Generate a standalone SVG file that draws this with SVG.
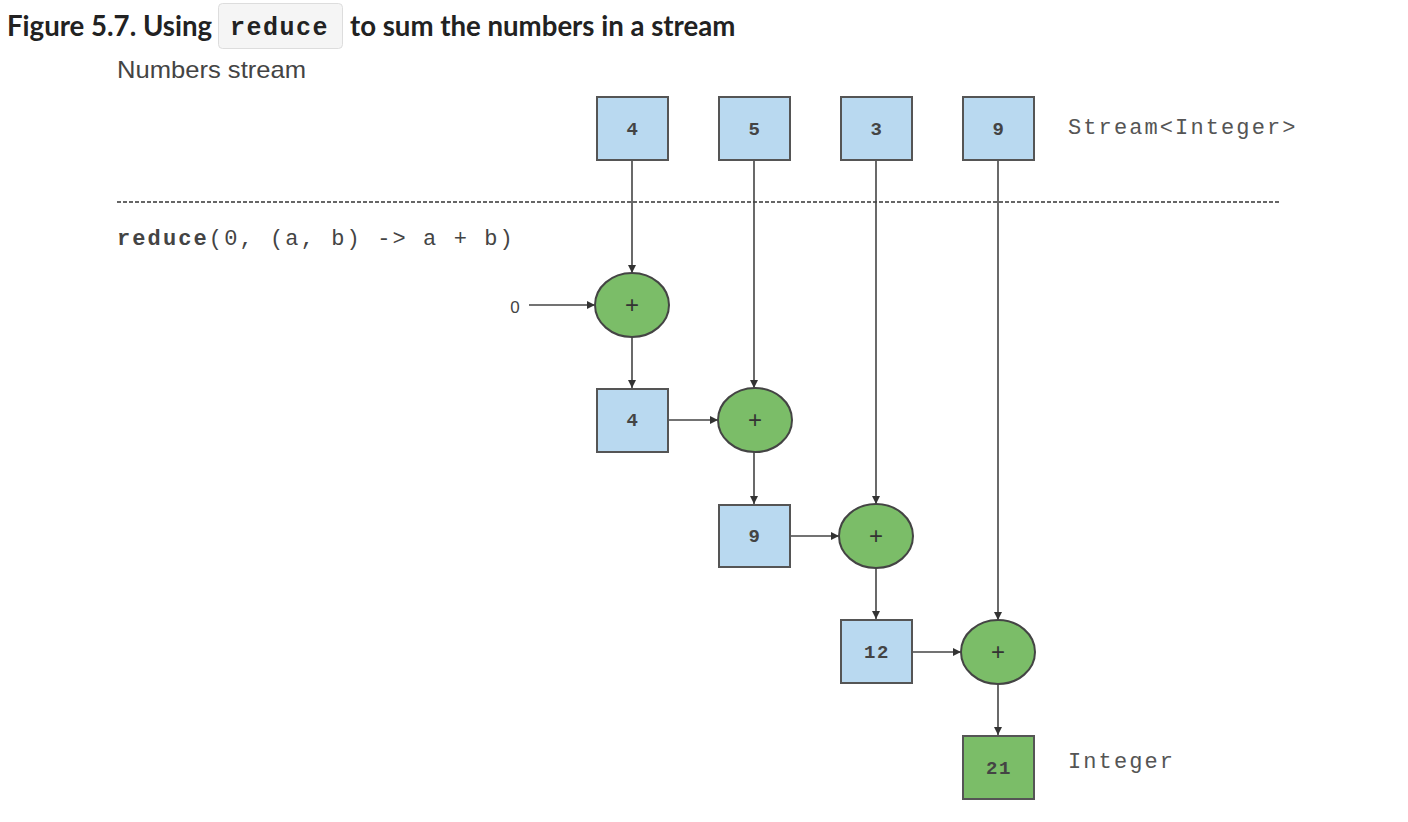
<svg xmlns="http://www.w3.org/2000/svg" width="1408" height="822" viewBox="0 0 1408 822">
<style>
.title{font-family:Lato,"Open Sans",sans-serif;font-weight:bold;font-size:27.6px;fill:#222}
.code{font-family:"Liberation Mono","DejaVu Sans Mono",monospace}
.box{fill:#b9d9f0;stroke:#555;stroke-width:2}
.res{fill:#7bbd68;stroke:#555;stroke-width:2}
.op{fill:#7bbd68;stroke:#444;stroke-width:2}
.num{font-family:"Liberation Mono",monospace;font-size:19px;fill:#444;text-anchor:middle;font-weight:bold;letter-spacing:1.5px}
.lbl{font-family:"Liberation Mono",monospace;font-size:22px;fill:#555;letter-spacing:2.1px}
.plus{font-family:"Liberation Sans",sans-serif;font-size:24px;fill:#333;text-anchor:middle}
.conn line{stroke:#444;stroke-width:1.6}
</style>
<defs>
<marker id="ah" viewBox="0 0 10 10" refX="10" refY="5" markerWidth="9" markerHeight="8" markerUnits="userSpaceOnUse" orient="auto">
<path d="M0,0 L10,5 L0,10 z" fill="#333"/>
</marker>
</defs>
<rect width="1408" height="822" fill="#fff"/>
<g id="title">
<text class="title" x="7" y="36">Figure 5.7. Using</text>
<rect x="218.500" y="3.500" width="124" height="45" rx="4" fill="#f5f5f5" stroke="#ddd"/>
<text class="code" x="230" y="35" font-size="25" font-weight="bold" fill="#222" letter-spacing="1.5">reduce</text>
<text class="title" x="350" y="36">to sum the numbers in a stream</text>
</g>
<g id="labels">
<text x="117" y="78" font-family="'Liberation Sans',Arial,sans-serif" font-size="24" fill="#444" textLength="189" lengthAdjust="spacingAndGlyphs">Numbers stream</text>
<line x1="117" y1="202" x2="1280" y2="202" stroke="#666" stroke-width="2" stroke-dasharray="4,2"/>
<text class="code" x="117" y="245" font-size="22" fill="#444" letter-spacing="2.1"><tspan font-weight="bold">reduce</tspan>(0, (a, b) -&gt; a + b)</text>
<text class="lbl" x="1068" y="134">Stream&lt;Integer&gt;</text>
<text class="lbl" x="1068" y="768">Integer</text>
<text x="515" y="313" font-family="'Liberation Sans',sans-serif" font-size="17" fill="#444" text-anchor="middle">0</text>
</g>
<g id="connectors" class="conn">
<line x1="632" y1="161" x2="632" y2="273" marker-end="url(#ah)"/>
<line x1="754" y1="161" x2="754" y2="388" marker-end="url(#ah)"/>
<line x1="876" y1="161" x2="876" y2="504" marker-end="url(#ah)"/>
<line x1="998" y1="161" x2="998" y2="620" marker-end="url(#ah)"/>
<line x1="529" y1="305" x2="595" y2="305" marker-end="url(#ah)"/>
<line x1="632" y1="337" x2="632" y2="388" marker-end="url(#ah)"/>
<line x1="668" y1="420" x2="718" y2="420" marker-end="url(#ah)"/>
<line x1="754" y1="452" x2="754" y2="504" marker-end="url(#ah)"/>
<line x1="790" y1="536" x2="839" y2="536" marker-end="url(#ah)"/>
<line x1="876" y1="568" x2="876" y2="619" marker-end="url(#ah)"/>
<line x1="912" y1="652" x2="961" y2="652" marker-end="url(#ah)"/>
<line x1="998" y1="684" x2="998" y2="735" marker-end="url(#ah)"/>
</g>
<g id="s4"><rect class="box" x="597" y="97" width="71" height="63"/><text class="num" x="633" y="135">4</text></g>
<g id="s5"><rect class="box" x="719" y="97" width="71" height="63"/><text class="num" x="755" y="135">5</text></g>
<g id="s3"><rect class="box" x="841" y="97" width="71" height="63"/><text class="num" x="877" y="135">3</text></g>
<g id="s9"><rect class="box" x="963" y="97" width="71" height="63"/><text class="num" x="999" y="135">9</text></g>
<g id="op1"><ellipse class="op" cx="632" cy="305" rx="37" ry="32"/><text class="plus" x="632" y="313">+</text></g>
<g id="r4"><rect class="box" x="597" y="389" width="71" height="63"/><text class="num" x="633" y="426">4</text></g>
<g id="op2"><ellipse class="op" cx="755" cy="420" rx="37" ry="32"/><text class="plus" x="755" y="428">+</text></g>
<g id="r9"><rect class="box" x="719" y="505" width="71" height="62"/><text class="num" x="755" y="542">9</text></g>
<g id="op3"><ellipse class="op" cx="876" cy="536" rx="37" ry="32"/><text class="plus" x="876" y="544">+</text></g>
<g id="r12"><rect class="box" x="841" y="620" width="71" height="63"/><text class="num" x="877" y="658">12</text></g>
<g id="op4"><ellipse class="op" cx="998" cy="652" rx="37" ry="32"/><text class="plus" x="998" y="660">+</text></g>
<g id="r21"><rect class="res" x="963" y="736" width="71" height="63"/><text class="num" x="999" y="774">21</text></g>
</svg>
